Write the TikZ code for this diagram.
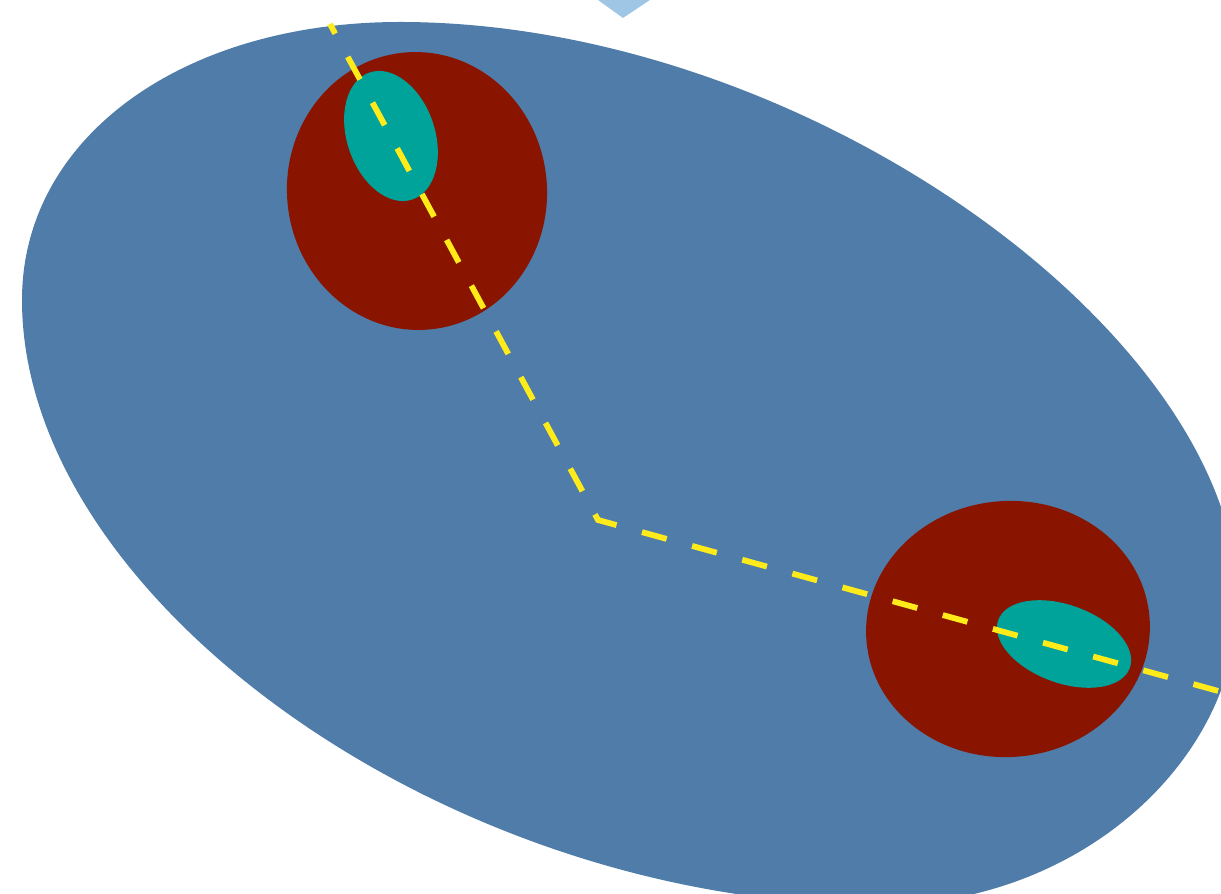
\documentclass[tikz,border=0pt]{standalone}
\begin{document}
\begin{tikzpicture}[x=0.5pt,y=0.5pt]
\definecolor{bigblue}{RGB}{79,124,168}
\definecolor{darkred}{RGB}{137,21,0}
\definecolor{tealc}{RGB}{0,163,154}
\definecolor{yel}{RGB}{255,235,26}
\definecolor{lblue}{RGB}{160,198,230}
\tikzset{
  body/.style={fill=bigblue,draw=none},
  cell/.style={fill=darkred,draw=none},
  core/.style={fill=tealc,draw=none},
  path line/.style={draw=yel,line width=2.9pt,dash pattern=on 12.8pt off 13.2pt,dash phase=7.3pt}
}
\useasboundingbox (0,0) rectangle (1221,894);
\begin{scope}
\clip (0,0) rectangle (1221,894);
% top light blue tip
\fill[lblue] (598,894) -- (650,894) -- (623,876) -- cycle;
% big body
\coordinate (A) at (22,594);
\coordinate (B) at (400,872);
\coordinate (C) at (1238,294);
\coordinate (D) at (880,-11);
\path[body] (A) .. controls (22,756) and (182,872) .. (B)
  .. controls (805,872) and (1236,560) .. (C)
  .. controls (1238,134) and (1080,-11) .. (D)
  .. controls (450,-11) and (22,294) .. (A) -- cycle;
% red cells
\coordinate (r1) at (417,703);
\coordinate (r2) at (1008,265);
\path[cell,rotate around={5:(r1)}] (r1) ellipse [x radius=130, y radius=139];
\path[cell,rotate around={5:(r2)}] (r2) ellipse [x radius=142, y radius=128];
% teal cores
\coordinate (t1) at (391,758);
\coordinate (t2) at (1064,250);
\path[core,rotate around={18.6:(t1)}] (t1) ellipse [x radius=44, y radius=67];
\path[core,rotate around={-20:(t2)}] (t2) ellipse [x radius=70, y radius=39];
% dashed path
\coordinate (p0) at (330,870);
\coordinate (p1) at (598,374);
\coordinate (p2) at (1240,197);
\draw[path line] (p0) -- (p1) -- (p2);
\end{scope}
\end{tikzpicture}
\end{document}
